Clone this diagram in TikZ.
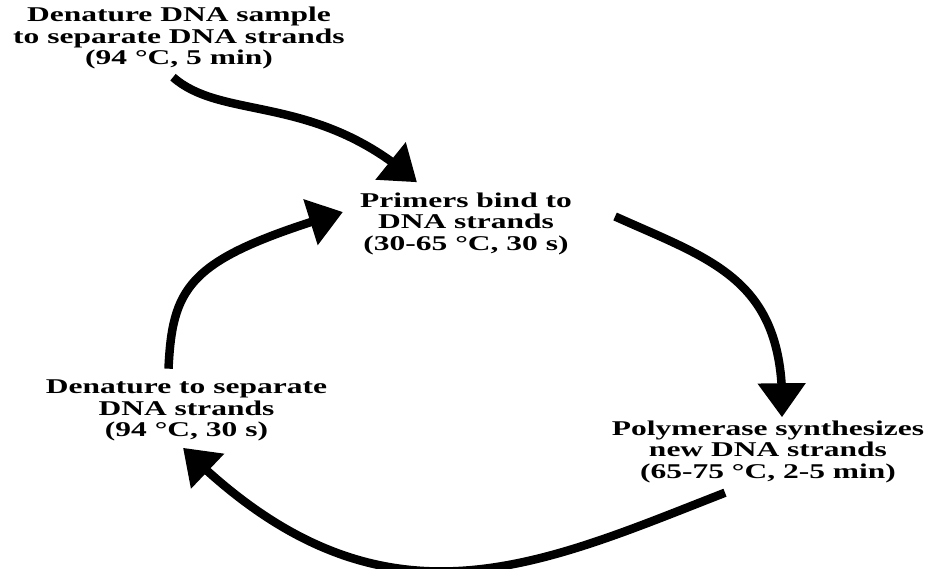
\documentclass[tikz,border=0pt]{standalone}
\usepackage{fontspec}
\setmainfont{Liberation Serif}[FakeStretch=1.5]
\usetikzlibrary{arrows.meta,bending}
\begin{document}
\begin{tikzpicture}[x=1pt,y=-1pt,
  stage/.style={align=center,inner sep=2pt,font=\bfseries\fontsize{21pt}{21.5pt}\selectfont},
  cyc/.style={line width=8.5pt,-{Triangle[width=46pt,length=34pt,flex]}}]
\useasboundingbox (0,0) rectangle (929,569);
\coordinate (A) at (179,38);
\coordinate (B) at (466,223.5);
\coordinate (C) at (768,451.5);
\coordinate (D) at (186.5,410.5);

\node[stage] (A1) at (A) {Denature DNA sample\\to separate DNA strands\\(94 °C, 5 min)};
\node[stage] (B1) at (B) {Primers bind to\\DNA strands\\(30-65 °C, 30 s)};
\node[stage] (C1) at (C) {Polymerase synthesizes\\new DNA strands\\(65-75 °C, 2-5 min)};
\node[stage] (D1) at (D) {Denature to separate\\DNA strands\\(94 °C, 30 s)};

\draw[cyc] ([shift={(-6,6)}]A1.south) .. controls +(50,44) and +(-100,-90) .. ([shift={(-49,-8)}]B1.north);
\draw[cyc] ([shift={(41,-7)}]B1.east) .. controls +(100,45) and +(5,-137) .. ([shift={(14,-1)}]C1.north);
\draw[cyc] ([shift={(-43,8)}]C1.south) .. controls +(-190,74) and +(195,195) .. ([shift={(-3.5,4.5)}]D1.south);
\draw[cyc] ([shift={(-18,-9)}]D1.north) .. controls +(4,-86) and +(-152,46) .. ([shift={(-15,-11.5)}]B1.west);

\end{tikzpicture}
\end{document}
